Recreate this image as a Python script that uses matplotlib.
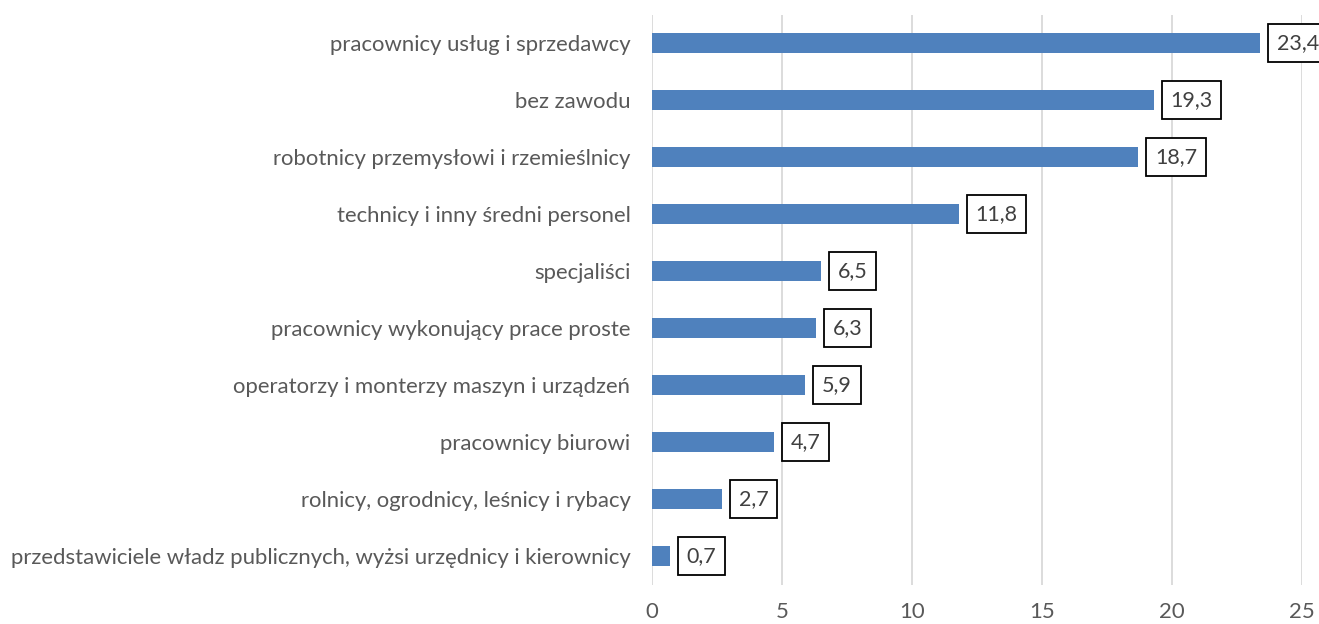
import matplotlib
matplotlib.use("Agg")
import matplotlib.pyplot as plt

categories = [
    "pracownicy usług i sprzedawcy",
    "bez zawodu",
    "robotnicy przemysłowi i rzemieślnicy",
    "technicy i inny średni personel",
    "specjaliści",
    "pracownicy wykonujący prace proste",
    "operatorzy i monterzy maszyn i urządzeń",
    "pracownicy biurowi",
    "rolnicy, ogrodnicy, leśnicy i rybacy",
    "przedstawiciele władz publicznych, wyżsi urzędnicy i kierownicy",
]
values = [23.4, 19.3, 18.7, 11.8, 6.5, 6.3, 5.9, 4.7, 2.7, 0.7]
xticks = [0, 5, 10, 15, 20, 25]

plt.rcParams['font.family'] = ['Lato', 'DejaVu Sans']
W, H = 1319, 624
fig = plt.figure(figsize=(W/100, H/100), dpi=100)
ax = fig.add_axes([652/W, 1 - 584.5/H, (1302-652)/W, 570/H])

ypos = list(range(len(categories)))[::-1]
ax.barh(ypos, values, height=0.36, color="#4F81BD", zorder=3)
ax.set_xlim(0, 25)
ax.set_ylim(-0.5, len(categories) - 0.5)
ax.set_xticks(xticks)
ax.set_xticklabels([str(t) for t in xticks])
ax.set_yticks(ypos)
ax.set_yticklabels(categories)
ax.tick_params(axis='both', length=0, labelsize=15.9, colors="#595959")
ax.tick_params(axis='x', pad=12.5)
ax.tick_params(axis='y', pad=15.5)
ax.xaxis.grid(True, color="#D9D9D9", linewidth=1.3, zorder=0)
for s in ax.spines.values():
    s.set_visible(False)

for y, v in zip(ypos, values):
    ax.annotate(f"{v:.1f}".replace(".", ","), xy=(v, y), xytext=(12, 0),
                textcoords="offset points", va="center", ha="left",
                fontsize=15.5, color="#404040",
                bbox=dict(boxstyle="square,pad=0.4", fc="white", ec="black", lw=1.3),
                annotation_clip=False, zorder=5)

fig.savefig("out.png", dpi=100)
